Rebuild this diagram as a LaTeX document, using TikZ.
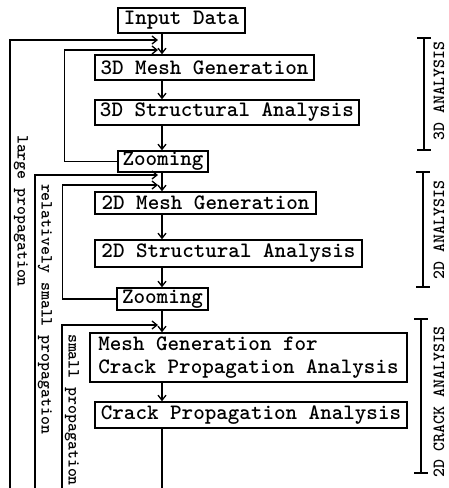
\documentclass[tikz,border=0pt]{standalone}
\usetikzlibrary{arrows.meta}
\begin{document}
\begin{tikzpicture}[x=1pt,y=-1pt,
  box/.style={draw,line width=1.6pt,inner sep=0pt,font=\fontsize{22}{23}\selectfont\ttfamily\bfseries},
  conn/.style={line width=1.3pt},
  arr/.style={conn,-{Straight Barb[length=5pt,width=8pt]}},
  side/.style={font=\fontsize{17}{18}\selectfont\ttfamily\bfseries,inner sep=0pt},
  brk/.style={line width=1.4pt}
]
\useasboundingbox (0,0) rectangle (448,488);
% boxes
\node[box,minimum width=127pt,minimum height=25pt] (in) at (181.5,20.5) {Input Data};
\node[box,minimum width=219pt,minimum height=25pt] (m3) at (204.5,67.5) {3D Mesh Generation};
\node[box,minimum width=264pt,minimum height=25pt] (s3) at (227,112.5) {3D Structural Analysis};
\node[box,minimum width=90pt,minimum height=21pt] (z1) at (163,161.5) {Zooming};
\node[box,minimum width=221pt,minimum height=22pt] (m2) at (205.5,203) {2D Mesh Generation};
\node[box,minimum width=267pt,minimum height=27pt] (s2) at (228.5,253.5) {2D Structural Analysis};
\node[box,minimum width=91pt,minimum height=22pt] (z2) at (162.5,299) {Zooming};
\node[box,minimum width=317pt,minimum height=49pt,align=left] (mc) at (248.5,357.5) {Mesh Generation for\\Crack Propagation Analysis};
\node[box,minimum width=312pt,minimum height=26pt] (cp) at (251,415) {Crack Propagation Analysis};
% main column
\coordinate (c) at (162,0);
\coordinate (bot) at (162,488);
\draw[arr] (in.south -| c) -- (m3.north -| c);
\draw[arr] (m3.south -| c) -- (s3.north -| c);
\draw[arr] (s3.south -| c) -- (z1.north -| c);
\draw[arr] (z1.south -| c) -- (m2.north -| c);
\draw[arr] (m2.south -| c) -- (s2.north -| c);
\draw[arr] (s2.south -| c) -- (z2.north -| c);
\draw[arr] (z2.south -| c) -- (mc.north -| c);
\draw[arr] (mc.south -| c) -- (cp.north -| c);
\draw[conn] (cp.south -| c) -- (bot);
% feedback loops
\coordinate (bL) at (10,488);   \coordinate (tL) at (158,40);
\coordinate (t3) at (158,50);
\coordinate (bR) at (35,488);   \coordinate (tR) at (158,175);
\coordinate (t2) at (158,185);
\coordinate (bS) at (62,488);   \coordinate (tS) at (158,325);
\draw[arr] (bL) |- (tL);
\draw[arr] (z1.west) -- ++(-53,0) |- (t3);
\draw[arr] (bR) |- (tR);
\draw[arr] (z2.west) -- ++(-54,0) |- (t2);
\draw[arr] (bS) |- (tS);
% left labels
\node[side,rotate=-90] (lp) at (21,211) {large propagation};
\node[side,rotate=-90] (rp) at (45,309) {relatively small propagation};
\node[side,rotate=-90] (sp) at (72,410) {small propagation};
% right brackets
\draw[brk] (424,38) -- (424,150) (417,38) -- (431,38) (417,150) -- (431,150);
\draw[brk] (423,172) -- (423,287) (416,172) -- (430,172) (416,287) -- (430,287);
\draw[brk] (421,319) -- (421,473) (414,319) -- (428,319) (414,473) -- (428,473);
\node[side,rotate=90] (a3) at (439,91) {3D ANALYSIS};
\node[side,rotate=90] (a2) at (439,230) {2D ANALYSIS};
\node[side,rotate=90] (ac) at (439,402) {2D CRACK ANALYSIS};
\end{tikzpicture}
\end{document}
